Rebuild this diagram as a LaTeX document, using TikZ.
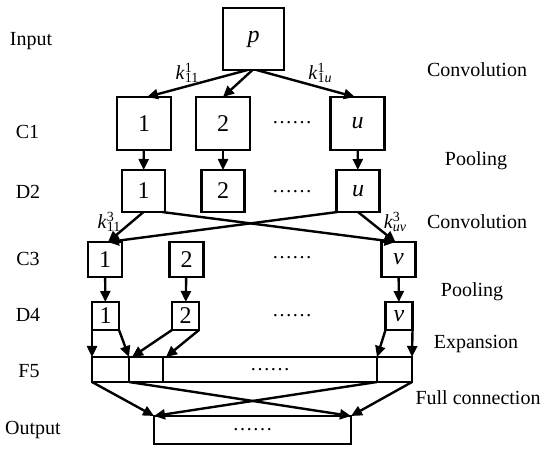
\documentclass[tikz,border=0pt]{standalone}
\usepackage{fontspec}
\setmainfont{Liberation Serif}
\usetikzlibrary{arrows.meta, positioning}

\newcommand{\kwt}[2]{\textit{k}\makebox[0pt][l]{\raisebox{3.5pt}{\fontsize{7}{8}\selectfont #1}}\raisebox{-1.8pt}{\fontsize{7}{8}\selectfont #2}}

\begin{document}
\begin{tikzpicture}[
    x=0.5pt, y=-0.5pt,
    box/.style={rectangle, draw=black, line width=1.2pt, inner sep=0pt, outer sep=0pt, font=\fontsize{12}{14}\selectfont},
    inbox/.style={box, minimum width=30.5pt, minimum height=31pt},
    cbox/.style={box, minimum width=27pt, minimum height=26.5pt},
    dbox/.style={box, minimum width=21.5pt, minimum height=21pt},
    ebox/.style={box, minimum width=17pt, minimum height=17.5pt},
    fbox/.style={box, minimum width=13.5pt, minimum height=14pt},
    cell/.style={box, minimum height=12.5pt, font=\fontsize{10}{12}\selectfont},
    dots/.style={font=\fontsize{10}{12}\selectfont},
    lbl/.style={font=\fontsize{10}{12}\selectfont, text height=6.6pt, text depth=0pt, inner sep=0pt},
    kernel/.style={font=\fontsize{10}{12}\selectfont, inner sep=0pt},
    arrow/.style={line width=1.2pt, -{Triangle[length=5.5pt, width=5pt]}}
]
\useasboundingbox (0,0) rectangle (550,453);

% Nodes
\node (p) [inbox] at (253.5,39) {\textit{p}};

\node (c1a) [cbox] at (144,123.5) {1};
\node (c1b) [cbox] at (223,123.5) {2};
\node (c1u) [cbox] at (357.5,123.5) {\textit{u}};
\node (c1dots) [dots] at (292,123) {……};

\node (d2a) [dbox] at (143.5,191) {1};
\node (d2b) [dbox] at (223,191) {2};
\node (d2u) [dbox] at (358,191) {\textit{u}};
\node (d2dots) [dots] at (292,192) {……};

\node (c3a) [ebox] at (105,259.5) {1};
\node (c3b) [ebox] at (186.5,259.5) {2};
\node (c3v) [ebox] at (398.5,259.5) {\textit{v}};
\node (c3dots) [dots] at (292,258) {……};

\node (d4a) [fbox] at (105.5,316) {1};
\node (d4b) [fbox] at (185.5,316) {2};
\node (d4v) [fbox] at (399,316) {\textit{v}};
\node (d4dots) [dots] at (292,316) {……};

\node (f5a) [cell, minimum width=18.5pt] at (110.5,369.5) {};
\node (f5b) [cell, minimum width=17pt, right=0pt of f5a] {};
\node (f5c) [cell, minimum width=107pt, right=0pt of f5b] {……};
\node (f5d) [cell, minimum width=17.5pt, right=0pt of f5c] {};

\node (out) [cell, minimum width=98.5pt, minimum height=14pt] at (252.5,430) {……};

% Kernels
\node (k1a) [kernel] at (187,73) {\kwt{1}{11}};
\node (k1u) [kernel] at (320,73) {\kwt{1}{1\textit{u}}};
\node (k3a) [kernel] at (109,222) {\kwt{3}{11}};
\node (k3v) [kernel] at (395,222) {\kwt{3}{\textit{uv}}};

% Layer names
\node (linput) [lbl] at (31,39) {Input};
\node (lc1) [lbl] at (27.5,132) {C1};
\node (ld2) [lbl] at (28,192) {D2};
\node (lc3) [lbl] at (28,259) {C3};
\node (ld4) [lbl] at (28,315) {D4};
\node (lf5) [lbl] at (29,371) {F5};
\node (lout) [lbl] at (33,428) {Output};

\node (rconv1) [lbl] at (477,70) {Convolution};
\node (rpool1) [lbl] at (476,159) {Pooling};
\node (rconv2) [lbl] at (477,222) {Convolution};
\node (rpool2) [lbl] at (472,290) {Pooling};
\node (rexp) [lbl] at (476,342) {Expansion};
\node (rfull) [lbl] at (478,398) {Full connection};

% Arrows
\draw [arrow] ([xshift=-3pt]p.south) -- ([xshift=1.5pt]c1a.north);
\draw [arrow] ([xshift=-0.5pt]p.south) -- (c1b.north);
\draw [arrow] ([xshift=1.5pt]p.south) -- ([xshift=-1.25pt]c1u.north);

\foreach \i in {a,b,u}
    \draw [arrow] (c1\i) -- (d2\i);

\draw [arrow] (d2a.south) -- ([xshift=1.5pt]c3a.north);
\draw [arrow] ([xshift=-1.5pt]d2a.south east) -- ([xshift=-1.5pt]c3v.north);
\draw [arrow] ([xshift=0.5pt]d2u.south west) -- ([xshift=1.5pt]c3a.north);
\draw [arrow] (d2u.south) -- ([xshift=-1.5pt]c3v.north);

\foreach \i in {a,b,v}
    \draw [arrow] (c3\i) -- (d4\i);

\draw [arrow] (d4a.south west) -- (f5a.north west);
\draw [arrow] (d4a.south east) -- (f5b.north west);
\draw [arrow] (d4b.south west) -- ([xshift=1.5pt]f5b.north west);
\draw [arrow] (d4b.south east) -- ([xshift=1.5pt]f5c.north west);
\draw [arrow] (d4v.south west) -- (f5d.north west);
\draw [arrow] (d4v.south east) -- (f5d.north east);

\draw [arrow] (f5a.south west) -- (out.north west);
\draw [arrow] (f5b.south west) -- (out.north east);
\draw [arrow] (f5d.south west) -- (out.north west);
\draw [arrow] (f5d.south east) -- (out.north east);

\end{tikzpicture}
\end{document}
